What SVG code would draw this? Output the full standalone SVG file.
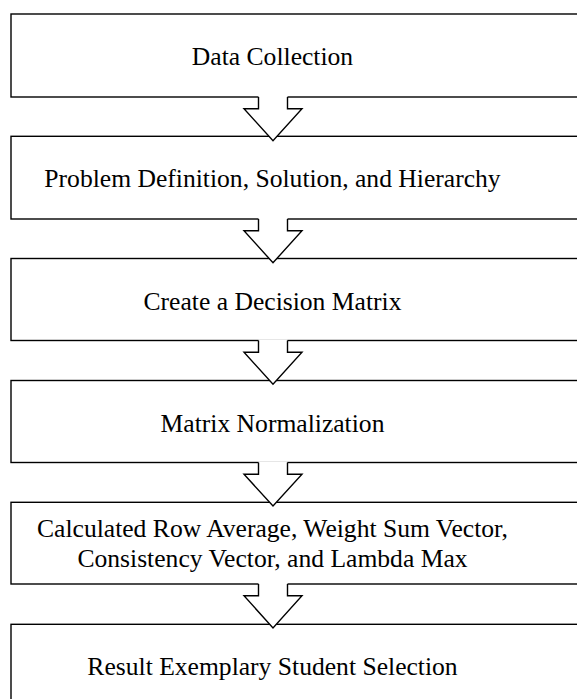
<svg xmlns="http://www.w3.org/2000/svg" width="577" height="699" viewBox="0 0 577 699">
<style>
.box{fill:#fff;stroke:#000;stroke-width:1.4}
.lbl{font-family:"Liberation Serif","Times New Roman",serif;font-size:25.6px;fill:#000;text-anchor:middle}
.arrFill{fill:#fff;stroke:none}
.arrLine{fill:none;stroke:#000;stroke-width:1.4;stroke-linejoin:miter}
</style>
<rect width="577" height="699" fill="#fff"/>
<g id="node1">
<rect class="box" x="11" y="14" width="600" height="83"/>
<text class="lbl" x="272.5" y="64.5">Data Collection</text>
</g>
<g id="node2">
<rect class="box" x="11" y="136.3" width="600" height="82.7"/>
<text class="lbl" x="272.5" y="186.5">Problem Definition, Solution, and Hierarchy</text>
</g>
<g id="node3">
<rect class="box" x="11" y="258.5" width="600" height="82"/>
<text class="lbl" x="272.5" y="309.5">Create a Decision Matrix</text>
</g>
<g id="node4">
<rect class="box" x="11" y="380.5" width="600" height="82"/>
<text class="lbl" x="272.5" y="431.5">Matrix Normalization</text>
</g>
<g id="node5">
<rect class="box" x="11" y="502.3" width="600" height="81.7"/>
<text class="lbl" x="272.5" y="536.8">Calculated Row Average, Weight Sum Vector,</text>
<text class="lbl" x="272.5" y="567">Consistency Vector, and Lambda Max</text>
</g>
<g id="node6">
<rect class="box" x="11" y="624.3" width="600" height="120"/>
<text class="lbl" x="272.5" y="675">Result Exemplary Student Selection</text>
</g>
<g id="connectors">
<g transform="translate(0,97)">
<polygon class="arrFill" points="258.5,-1 287.5,-1 287.5,11.7 302,11.7 273,43.8 244,11.7 258.5,11.7"/>
<polyline class="arrLine" points="258.5,0 258.5,11.7 244,11.7 273,43.8 302,11.7 287.5,11.7 287.5,0"/>
</g>
<g transform="translate(0,219)">
<polygon class="arrFill" points="258.5,-1 287.5,-1 287.5,11.7 302,11.7 273,43.8 244,11.7 258.5,11.7"/>
<polyline class="arrLine" points="258.5,0 258.5,11.7 244,11.7 273,43.8 302,11.7 287.5,11.7 287.5,0"/>
</g>
<g transform="translate(0,340.5)">
<polygon class="arrFill" points="258.5,-1 287.5,-1 287.5,11.7 302,11.7 273,43.8 244,11.7 258.5,11.7"/>
<polyline class="arrLine" points="258.5,0 258.5,11.7 244,11.7 273,43.8 302,11.7 287.5,11.7 287.5,0"/>
</g>
<g transform="translate(0,462.5)">
<polygon class="arrFill" points="258.5,-1 287.5,-1 287.5,11.7 302,11.7 273,43.5 244,11.7 258.5,11.7"/>
<polyline class="arrLine" points="258.5,0 258.5,11.7 244,11.7 273,43.5 302,11.7 287.5,11.7 287.5,0"/>
</g>
<g transform="translate(0,584)">
<polygon class="arrFill" points="258.5,-1 287.5,-1 287.5,11.7 302,11.7 273,44 244,11.7 258.5,11.7"/>
<polyline class="arrLine" points="258.5,0 258.5,11.7 244,11.7 273,44 302,11.7 287.5,11.7 287.5,0"/>
</g>
</g>
</svg>
